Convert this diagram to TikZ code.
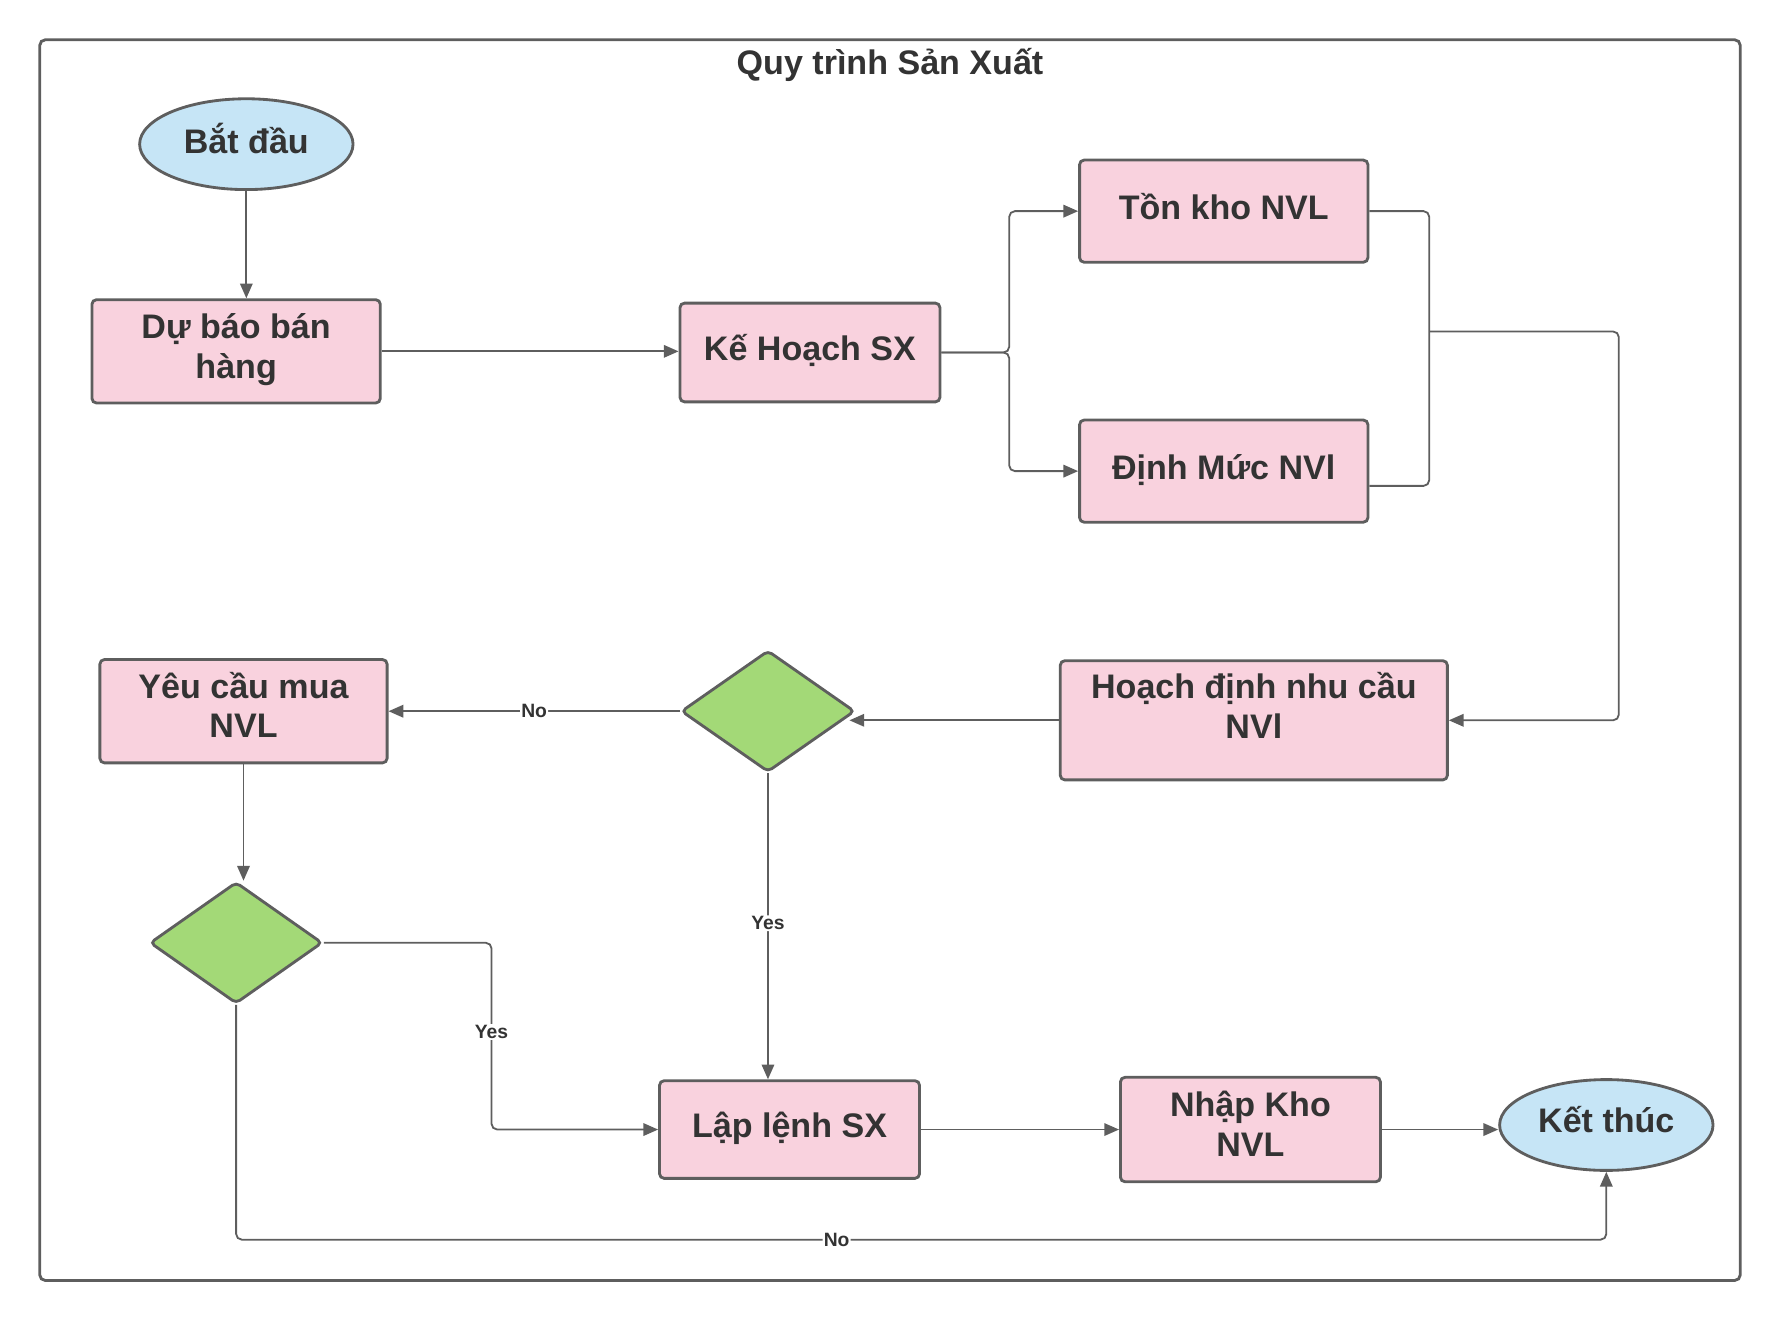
\documentclass[tikz,border=0pt]{standalone}
\usepackage{fontspec}
\setmainfont{Liberation Sans}
\usetikzlibrary{shapes.geometric,arrows.meta}
\definecolor{pinkfill}{HTML}{F9D2DE}
\definecolor{bluefill}{HTML}{C6E5F6}
\definecolor{greenfill}{HTML}{A3D977}
\definecolor{strokegray}{HTML}{5E5E5E}
\definecolor{txt}{HTML}{333333}
\newcommand{\boxtxt}[2][0pt]{\raisebox{#1}[\height][\depth]{\begin{tabular}{@{}c@{}}#2\end{tabular}}}
\begin{document}
\begin{tikzpicture}[x=1pt,y=-1pt,
  box/.style={draw=strokegray,line width=2.5pt,fill=pinkfill,rounded corners=4pt,
    inner sep=0pt,text=txt,font=\fontsize{30}{35}\selectfont\bfseries},
  oval/.style={ellipse,draw=strokegray,line width=2.5pt,fill=bluefill,inner sep=0pt,
    minimum width=188pt,minimum height=80pt,text=txt,font=\fontsize{30}{35}\selectfont\bfseries},
  decision/.style={diamond,draw=strokegray,line width=2.5pt,fill=greenfill,rounded corners=4pt,
    inner sep=0pt,minimum width=153pt,minimum height=107pt},
  conn/.style={draw=strokegray,line width=1.6pt,rounded corners=5pt},
  arr/.style={conn,-{Triangle[length=13pt,width=11pt]}},
  lbl/.style={fill=white,inner sep=1pt,text=txt,font=\fontsize{17}{19}\selectfont\bfseries},
  frame/.style={draw=strokegray,line width=2.5pt,rounded corners=5pt}
]
\useasboundingbox (0,0) rectangle (1568,1163);
\draw[frame] (35,35) rectangle (1533,1128);
\node[text=txt,font=\fontsize{30}{35}\selectfont\bfseries] (title) at (784,57) {Quy trình Sản Xuất};

\node[oval] (start) at (217,127) {\boxtxt{Bắt đầu}};
\node[box,minimum width=254pt,minimum height=91pt] (dubao) at (208,309.5) {\boxtxt[1pt]{Dự báo bán\\hàng}};
\node[box,minimum width=229pt,minimum height=87pt] (kehoach) at (713.5,310.5) {\boxtxt{Kế Hoạch SX}};
\node[box,minimum width=254pt,minimum height=90pt] (tonkho) at (1078,186) {\boxtxt{Tồn kho NVL}};
\node[box,minimum width=254pt,minimum height=90pt] (dinhmuc) at (1078,415) {\boxtxt{Định Mức NVl}};
\node[box,minimum width=341pt,minimum height=105pt] (hoachdinh) at (1104.5,634.5) {\boxtxt[8.5pt]{Hoạch định nhu cầu\\NVl}};
\node[decision] (d1) at (676.5,626.5) {};
\node[box,minimum width=253pt,minimum height=91pt] (yeucau) at (214.5,626.5) {\boxtxt[1pt]{Yêu cầu mua\\NVL}};
\node[decision,minimum width=152pt] (d2) at (208,830.5) {};
\node[box,minimum width=229pt,minimum height=86pt] (lap) at (695.5,995) {\boxtxt{Lập lệnh SX}};
\node[box,minimum width=229pt,minimum height=92pt] (nhap) at (1101.5,995) {\boxtxt[1pt]{Nhập Kho\\NVL}};
\node[oval] (end) at (1415,991) {\boxtxt{Kết thúc}};

\coordinate (split) at (889,310.5);
\coordinate (merge) at (1259,292);

\draw[arr] (start.south) -- (start.south |- dubao.north);
\draw[arr] (dubao.east) -- (dubao.east -| kehoach.west);
\draw[arr] (kehoach.east) -- (split) |- (tonkho.west);
\draw[arr] (kehoach.east) -- (split) |- (dinhmuc.west);
\draw[conn] (tonkho.east) -| (1259,428) -- ([yshift=-13pt]dinhmuc.east);
\draw[arr] (merge) -| (1426,500) |- (hoachdinh.east);
\draw[arr] (hoachdinh.west) -- ([xshift=-6pt,yshift=-8pt]d1.east);
\draw[arr] (d1.west) -- node[lbl]{No} (d1.west -| yeucau.east);
\draw[arr] (d1.south) -- node[lbl,pos=0.49]{Yes} (d1.south |- lap.north);
\draw[arr] (yeucau.south) -- (yeucau.south |- d2.north);
\draw[arr] (d2.east) -| (433,909) node[lbl]{Yes} |- (lap.west);
\draw[arr] (d2.south) |- (737,1092) node[lbl]{No} -| (end.south);
\draw[arr] (lap.east) -- (lap.east -| nhap.west);
\draw[arr] (nhap.east) -- (nhap.east -| end.west);
\end{tikzpicture}
\end{document}
